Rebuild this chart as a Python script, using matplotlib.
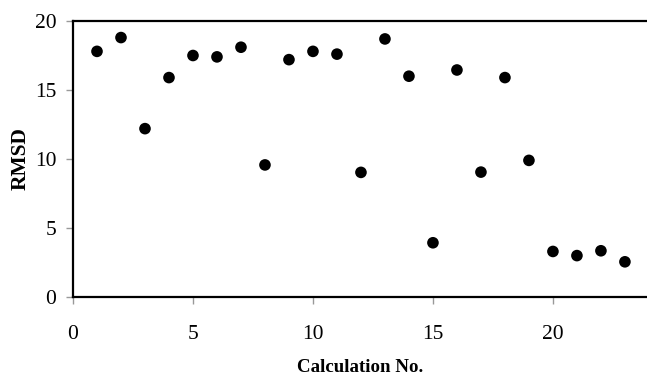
import matplotlib
matplotlib.use("Agg")
import matplotlib.pyplot as plt

calc_no = list(range(1, 24))
rmsd = [17.8, 18.8, 12.2, 15.9, 17.5, 17.4, 18.1, 9.57, 17.2, 17.8, 17.6, 9.03,
        18.7, 16.0, 3.93, 16.45, 9.05, 15.9, 9.9, 3.3, 3.0, 3.35, 2.55]
xticks = [0, 5, 10, 15, 20]
yticks = [0, 5, 10, 15, 20]

plt.rcParams['font.family'] = ['Liberation Serif', 'DejaVu Serif']

fig = plt.figure(figsize=(6.47, 3.76), dpi=100)
ax = fig.add_axes([73/647, 79/376, 1 - 73/647, 276/376])
ax.scatter(calc_no, rmsd, s=70, color='black', edgecolors='none', zorder=3)
ax.set_xlim(0, 23.92)
ax.set_ylim(0, 20)
ax.set_xticks(xticks)
ax.set_yticks(yticks)
ax.tick_params(axis='both', direction='out', length=5, width=1, color='#999999',
               labelsize=15.5, pad=7)
ax.tick_params(axis='x', pad=15)
for s in ['left', 'bottom', 'top']:
    ax.spines[s].set_linewidth(1.6)
    ax.spines[s].set_color('black')
ax.spines['right'].set_visible(False)
ax.set_xlabel('Calculation No.', fontsize=13.6, fontweight='bold', labelpad=11)
ax.set_ylabel('RMSD', fontsize=15.5, fontweight='bold', labelpad=3)
fig.savefig('out.png', dpi=100)
